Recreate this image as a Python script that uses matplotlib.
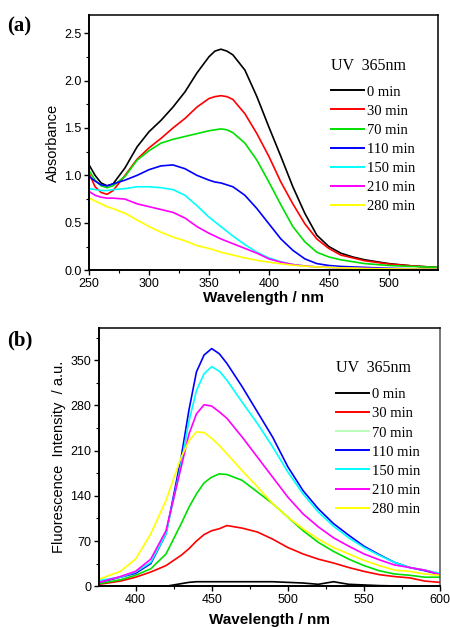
import matplotlib
matplotlib.use("Agg")
import matplotlib.pyplot as plt
from matplotlib.lines import Line2D
from matplotlib.ticker import MultipleLocator, FormatStrFormatter

times = ["0 min", "30 min", "70 min", "110 min", "150 min", "210 min", "280 min"]
colors = ["#000000", "#ff0000", "#00e000", "#0000ff", "#00ffff", "#ff00ff", "#ffff00"]

# (a) absorbance
wl_a = [250, 255, 260, 265, 270, 280, 290, 300, 310, 320, 330, 340, 350, 355, 360, 365, 370, 380,
        390, 400, 410, 420, 430, 440, 450, 460, 470, 480, 500, 520, 540]
abs_0 = [1.11, 1.00, 0.92, 0.89, 0.91, 1.08, 1.30, 1.46, 1.58, 1.72, 1.88, 2.08, 2.25, 2.31, 2.33, 2.31, 2.27, 2.11,
         1.83, 1.51, 1.20, 0.88, 0.60, 0.37, 0.25, 0.18, 0.14, 0.11, 0.07, 0.045, 0.03]
abs_30 = [1.02, 0.88, 0.82, 0.80, 0.84, 1.00, 1.17, 1.29, 1.39, 1.50, 1.60, 1.72, 1.81, 1.83, 1.84, 1.83, 1.80, 1.65,
          1.44, 1.20, 0.93, 0.70, 0.49, 0.33, 0.23, 0.16, 0.13, 0.10, 0.065, 0.045, 0.03]
abs_70 = [1.05, 0.95, 0.89, 0.87, 0.89, 0.99, 1.16, 1.26, 1.34, 1.38, 1.41, 1.44, 1.47, 1.48, 1.49, 1.48, 1.45, 1.34,
          1.16, 0.93, 0.69, 0.46, 0.30, 0.19, 0.14, 0.11, 0.09, 0.07, 0.05, 0.04, 0.03]
abs_110 = [0.99, 0.94, 0.90, 0.89, 0.91, 0.95, 1.00, 1.06, 1.10, 1.11, 1.07, 1.00, 0.95, 0.93, 0.92, 0.90, 0.88, 0.79,
           0.65, 0.49, 0.33, 0.21, 0.12, 0.07, 0.05, 0.04, 0.035, 0.03, 0.02, 0.015, 0.01]
abs_150 = [0.86, 0.85, 0.84, 0.84, 0.85, 0.86, 0.88, 0.88, 0.87, 0.85, 0.79, 0.68, 0.56, 0.51, 0.46, 0.41, 0.36, 0.27,
           0.19, 0.13, 0.09, 0.06, 0.045, 0.035, 0.03, 0.025, 0.02, 0.015, 0.012, 0.01, 0.01]
abs_210 = [0.83, 0.79, 0.77, 0.76, 0.76, 0.75, 0.70, 0.67, 0.64, 0.61, 0.55, 0.46, 0.39, 0.36, 0.33, 0.305, 0.28, 0.23,
           0.18, 0.12, 0.085, 0.06, 0.045, 0.035, 0.03, 0.025, 0.02, 0.02, 0.015, 0.012, 0.01]
abs_280 = [0.76, 0.73, 0.70, 0.67, 0.65, 0.60, 0.53, 0.46, 0.40, 0.35, 0.31, 0.26, 0.23, 0.21, 0.19, 0.175, 0.16, 0.13,
           0.105, 0.085, 0.068, 0.053, 0.043, 0.035, 0.03, 0.025, 0.022, 0.018, 0.014, 0.012, 0.01]

# (b) fluorescence
wl_b = [376, 390, 400, 410, 420, 430, 435, 440, 445, 450, 455, 460, 470, 480, 490, 500, 510,
        520, 530, 540, 550, 560, 570, 580, 590, 600]
fl_0 = [0, 0, 0, 0, 0, 4, 6, 7, 7, 7, 7, 7, 7, 7, 7, 6, 5,
        3, 7, 3, 2, 1, 0.5, 0.5, None, None]
fl_30 = [3, 8, 14, 22, 32, 48, 58, 70, 80, 86, 89, 94, 90, 84, 73, 60, 50,
         42, 36, 29, 23, 18, 15, 13, 8, 6]
fl_70 = [4, 10, 17, 27, 50, 97, 122, 143, 160, 169, 174, 173, 164, 146, 128, 107, 86,
         68, 54, 42, 32, 24, 19, 17, 14, 14]
fl_110 = [6, 14, 20, 35, 81, 200, 272, 332, 358, 368, 360, 345, 309, 270, 231, 185, 148,
          120, 97, 79, 62, 49, 37, 29, 24, 18]
fl_150 = [9, 14, 22, 37, 81, 190, 255, 303, 329, 340, 333, 319, 285, 252, 216, 177, 143,
          115, 93, 75, 60, 48, 37, 29, 25, 20]
fl_210 = [6, 15, 23, 42, 86, 185, 235, 267, 281, 279, 270, 260, 231, 200, 169, 138, 112,
          92, 75, 62, 50, 41, 33, 29, 25, 18]
fl_280 = [11, 23, 42, 81, 133, 200, 225, 239, 238, 229, 218, 205, 179, 154, 128, 107, 89,
          73, 60, 50, 40, 32, 25, 23, 19, 17]

abs_series = [abs_0, abs_30, abs_70, abs_110, abs_150, abs_210, abs_280]
fl_series = [fl_0, fl_30, fl_70, fl_110, fl_150, fl_210, fl_280]

plt.rcParams["font.family"] = ["Liberation Sans", "DejaVu Sans"]

fig = plt.figure(figsize=(4.5, 6.27), dpi=100)
ax_a = fig.add_axes([0.198, 0.569, 0.775, 0.407])
ax_b = fig.add_axes([0.22, 0.065, 0.758, 0.412])


def style(ax, right_color):
    for s in ["left", "bottom"]:
        ax.spines[s].set_linewidth(1.4)
    for s in ["top", "right"]:
        ax.spines[s].set_linewidth(1.1)
    ax.spines["right"].set_color(right_color)
    ax.tick_params(which="major", direction="out", length=3.5, width=1.0, labelsize=9, pad=2)
    ax.tick_params(which="minor", direction="out", length=2, width=0.8)


def legend(ax, legend_colors, anchor):
    handles = [Line2D([], [], color=c, lw=1.4) for c in legend_colors]
    leg = ax.legend(handles, times, title="UV  365nm", loc="upper left", bbox_to_anchor=anchor,
                    frameon=False, handlelength=2.3, handletextpad=0.2, labelspacing=0.4,
                    prop={"family": "Liberation Serif", "size": 10.5},
                    title_fontproperties={"family": "Liberation Serif", "size": 11.5})
    leg._legend_box.align = "left"
    leg._legend_box.sep = 8.5


for ys, c in zip(abs_series, colors):
    ax_a.plot(wl_a, ys, color=c, lw=1.2)
ax_a.set_xlim(250, 541)
ax_a.set_ylim(0, 2.69)
ax_a.xaxis.set_major_locator(MultipleLocator(50))
ax_a.xaxis.set_minor_locator(MultipleLocator(25))
ax_a.yaxis.set_major_locator(MultipleLocator(0.5))
ax_a.yaxis.set_minor_locator(MultipleLocator(0.25))
ax_a.yaxis.set_major_formatter(FormatStrFormatter("%.1f"))
ax_a.set_xlabel("Wavelength / nm", fontsize=11, fontweight="bold", labelpad=1)
ax_a.set_ylabel("Absorbance", fontsize=10.5, labelpad=3)
style(ax_a, "black")
legend(ax_a, colors, (0.655, 0.885))

for ys, c in zip(fl_series, colors):
    ax_b.plot(wl_b, [float("nan") if v is None else v for v in ys], color=c, lw=1.2)
ax_b.set_xlim(376, 600)
ax_b.set_ylim(0, 400)
ax_b.xaxis.set_major_locator(MultipleLocator(50))
ax_b.xaxis.set_minor_locator(MultipleLocator(25))
ax_b.yaxis.set_major_locator(MultipleLocator(70))
ax_b.yaxis.set_minor_locator(MultipleLocator(35))
ax_b.set_xlabel("Wavelength / nm", fontsize=11, fontweight="bold", labelpad=5)
ax_b.set_ylabel("Fluorescence  Intensity  / a.u.", fontsize=10.5, labelpad=3)
style(ax_b, "#555555")
legend_b = list(colors)
legend_b[2] = "#b8ffb8"
legend(ax_b, legend_b, (0.655, 0.925))

fig.text(0.015, 0.958, "(a)", fontsize=15, fontweight="bold", family="Liberation Serif", va="center")
fig.text(0.015, 0.457, "(b)", fontsize=15, fontweight="bold", family="Liberation Serif", va="center")

fig.savefig("out.png", dpi=100)
